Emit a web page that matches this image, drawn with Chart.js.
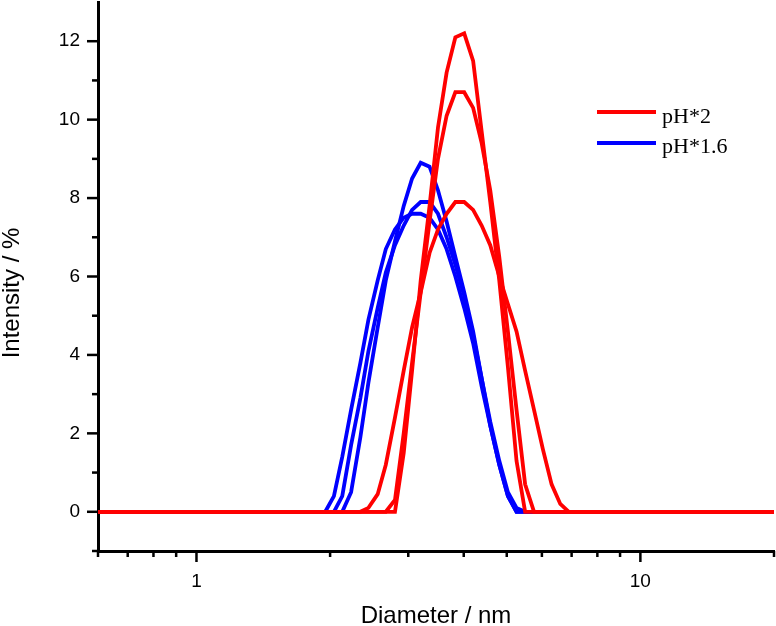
<!DOCTYPE html>
<html>
<head>
<meta charset="utf-8">
<script src="https://cdn.jsdelivr.net/npm/chart.js@4.4.1/dist/chart.umd.min.js"></script>
<style>
html,body{margin:0;padding:0;background:#fff;}
canvas{display:block;}
</style>
</head>
<body>
<canvas id="c" width="776" height="626"></canvas>
<script>
// ---- data ----
const diameters = [0.6, 1.86, 1.95, 2.04, 2.13, 2.23, 2.34, 2.44, 2.56, 2.67, 2.80, 2.93, 3.06, 3.20, 3.35, 3.50, 3.66, 3.83, 4.01, 4.20, 4.39, 4.59, 4.81, 5.03, 5.26, 5.50, 5.76, 6.03, 6.31, 6.60, 6.90, 7.22, 20];

const red1  = [0,0,0,0,0,0,0,0,0,0,0, 1.5,3.6,5.9,7.8,9.8,11.2,12.1,12.2,11.5,9.7,7.9,5.9,3.7,1.3, 0,0,0,0,0,0,0,0];
const red2  = [0,0,0,0,0,0,0,0,0,0, 0.3,2.0,3.8,5.6,7.4,9.0,10.1,10.7,10.7,10.3,9.4,8.2,6.5,4.6,2.6,0.7, 0,0,0,0,0,0,0];
const red3  = [0,0,0,0,0,0,0, 0.1,0.45,1.2,2.4,3.6,4.7,5.6,6.6,7.2,7.6,7.9,7.9,7.7,7.3,6.8,6.0,5.3,4.6,3.6,2.6,1.6,0.7,0.2, 0,0,0];
const blue1 = [0,0,0,0,0, 0.5,1.9,3.3,4.7,5.9,6.9,7.8,8.5,8.9,8.8,8.2,7.4,6.5,5.6,4.6,3.4,2.2,1.2,0.4, 0,0,0,0,0,0,0,0,0];
const blue2 = [0,0,0,0, 0.4,1.7,2.9,4.1,5.2,6.1,6.8,7.3,7.7,7.9,7.9,7.6,7.0,6.3,5.5,4.5,3.4,2.3,1.3,0.5,0.1, 0,0,0,0,0,0,0,0];
const blue3 = [0,0,0, 0.4,1.4,2.6,3.8,4.9,5.9,6.7,7.2,7.5,7.6,7.6,7.5,7.2,6.7,6.0,5.2,4.3,3.2,2.2,1.2,0.4, 0,0,0,0,0,0,0,0,0];

const yMajorTicks = [0, 2, 4, 6, 8, 10, 12];
const yMinorTicks = [-1, 1, 3, 5, 7, 9, 11];
const xMajorTicks = [1, 10];
const xMinorTicks = [0.6, 0.7, 0.8, 0.9, 2, 3, 4, 5, 6, 7, 8, 9, 20];
const legendLabels = ['pH*2', 'pH*1.6'];
const xTitle = 'Diameter / nm';
const yTitle = 'Intensity / %';

const RED = '#ff0000';
const BLUE = '#0000ff';

function pts(series) {
  return diameters.map((d, i) => ({ x: d, y: series[i] }));
}
function ds(series, color) {
  return { data: pts(series), borderColor: color, backgroundColor: color, borderWidth: 3.8,
           pointRadius: 0, tension: 0, fill: false };
}

const axisDecor = {
  id: 'axisDecor',
  afterDraw(chart) {
    const { ctx, chartArea: a, scales: { x, y } } = chart;
    ctx.save();
    ctx.strokeStyle = '#000';
    ctx.lineWidth = 2.5;
    ctx.lineCap = 'butt';
    const seg = (x1, y1, x2, y2) => { ctx.beginPath(); ctx.moveTo(x1, y1); ctx.lineTo(x2, y2); ctx.stroke(); };
    yMajorTicks.forEach(v => { const p = y.getPixelForValue(v); seg(a.left, p, a.left - 11, p); });
    yMinorTicks.forEach(v => { const p = y.getPixelForValue(v); seg(a.left, p, a.left - 6, p); });
    xMajorTicks.forEach(v => { const p = x.getPixelForValue(v); seg(p, a.bottom, p, a.bottom + 11); });
    xMinorTicks.forEach(v => { const p = x.getPixelForValue(v); seg(p, a.bottom, p, a.bottom + 6); });

    // y axis title (sits a little below the axis centre in the reference)
    ctx.save();
    ctx.translate(12, 293);
    ctx.rotate(-Math.PI / 2);
    ctx.font = '24px "Liberation Sans"';
    ctx.fillStyle = '#000';
    ctx.textAlign = 'center';
    ctx.textBaseline = 'middle';
    ctx.fillText(yTitle, 0, 0);
    ctx.restore();

    // legend
    const colors = [RED, BLUE];
    const lineY = [112, 143];
    const textY = [123, 153];
    ctx.lineWidth = 4;
    ctx.font = '22px "Liberation Serif"';
    ctx.textBaseline = 'alphabetic';
    ctx.textAlign = 'left';
    legendLabels.forEach((lab, i) => {
      ctx.strokeStyle = colors[i];
      seg(597, lineY[i], 656, lineY[i]);
      ctx.fillStyle = '#000';
      ctx.fillText(lab, 662, textY[i]);
    });
    ctx.restore();
  }
};

new Chart(document.getElementById('c'), {
  type: 'line',
  data: {
    datasets: [
      ds(red1, RED), ds(red2, RED), ds(red3, RED),
      ds(blue1, BLUE), ds(blue2, BLUE), ds(blue3, BLUE)
    ]
  },
  options: {
    responsive: false,
    animation: false,
    devicePixelRatio: 1,
    layout: { autoPadding: false, padding: { top: 2, right: 2, left: 0, bottom: 0 } },
    plugins: { legend: { display: false }, tooltip: { enabled: false } },
    scales: {
      x: {
        type: 'logarithmic', min: 0.6, max: 20,
        afterBuildTicks: s => { s.ticks = xMajorTicks.map(v => ({ value: v })); },
        afterFit: s => { s.height = 75; s.paddingLeft = 0; s.paddingRight = 0; },
        grid: { display: false, drawTicks: true, tickLength: 11 },
        border: { display: true, color: '#000', width: 3 },
        ticks: { color: '#000', font: { family: 'Liberation Sans', size: 19 }, padding: 8,
                 autoSkip: false, maxRotation: 0, callback: v => String(v) },
        title: { display: true, text: xTitle, color: '#000',
                 font: { family: 'Liberation Sans', size: 24, lineHeight: 1 }, padding: { top: 0, bottom: -2 } }
      },
      y: {
        type: 'linear', min: -1, max: 13,
        afterBuildTicks: s => { s.ticks = yMajorTicks.map(v => ({ value: v })); },
        afterFit: s => { s.width = 98; s.paddingTop = 0; s.paddingBottom = 0; },
        grid: { display: false, drawTicks: true, tickLength: 11 },
        border: { display: true, color: '#000', width: 3 },
        ticks: { color: '#000', font: { family: 'Liberation Sans', size: 19 }, padding: 7 },
        title: { display: false, text: yTitle }
      }
    }
  },
  plugins: [axisDecor]
});
</script>
</body>
</html>
